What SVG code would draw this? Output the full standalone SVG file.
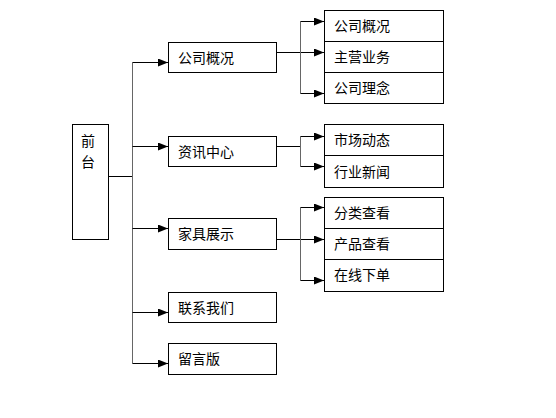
<svg xmlns="http://www.w3.org/2000/svg" width="556" height="418" viewBox="0 0 556 418">
<style>
rect{fill:#fff;stroke:#000;stroke-width:1}
text{font-family:"Noto Sans CJK SC","Noto Sans",sans-serif;font-size:14px;fill:#000;dominant-baseline:central}
.c line,.c path{stroke:#000;stroke-width:1;fill:none}
.c .v{stroke:#666}
</style>
<defs>
<marker id="a" viewBox="0 0 10 8" refX="10" refY="4" markerWidth="10" markerHeight="8" markerUnits="userSpaceOnUse" orient="auto">
<path d="M0,0 L10,4 L0,8 Z" fill="#000"/>
</marker>
</defs>
<rect x="0" y="0" width="556" height="418" style="stroke:none"/>
<g class="c" id="connectors">
<line x1="108.5" y1="176.5" x2="132.5" y2="176.5"/>
<line class="v" x1="132.5" y1="62.5" x2="132.5" y2="363.5"/>
<line x1="132.5" y1="62.5" x2="168" y2="62.5" marker-end="url(#a)"/>
<line x1="132.5" y1="146.5" x2="168" y2="146.5" marker-end="url(#a)"/>
<line x1="132.5" y1="228.5" x2="168" y2="228.5" marker-end="url(#a)"/>
<line x1="132.5" y1="312.5" x2="168" y2="312.5" marker-end="url(#a)"/>
<line x1="132.5" y1="363.5" x2="168" y2="363.5" marker-end="url(#a)"/>
<line x1="277" y1="52.5" x2="324" y2="52.5" marker-end="url(#a)"/>
<line class="v" x1="300.5" y1="21.5" x2="300.5" y2="93.5"/>
<line x1="300.5" y1="21.5" x2="324" y2="21.5" marker-end="url(#a)"/>
<line x1="300.5" y1="93.5" x2="324" y2="93.5" marker-end="url(#a)"/>
<line x1="277" y1="146.5" x2="300.5" y2="146.5"/>
<line class="v" x1="300.5" y1="136.5" x2="300.5" y2="166.5"/>
<line x1="300.5" y1="136.5" x2="324" y2="136.5" marker-end="url(#a)"/>
<line x1="300.5" y1="166.5" x2="324" y2="166.5" marker-end="url(#a)"/>
<line x1="277" y1="239.5" x2="324" y2="239.5" marker-end="url(#a)"/>
<line class="v" x1="300.5" y1="207.5" x2="300.5" y2="280.5"/>
<line x1="300.5" y1="207.5" x2="324" y2="207.5" marker-end="url(#a)"/>
<line x1="300.5" y1="280.5" x2="324" y2="280.5" marker-end="url(#a)"/>
</g>
<g id="root"><rect x="72.5" y="124.5" width="36" height="115"/><text x="88" y="140" text-anchor="middle">前</text><text x="88" y="161" text-anchor="middle">台</text></g>
<g id="n1"><rect x="168.5" y="42.5" width="108" height="30"/><text x="178" y="57">公司概况</text></g>
<g id="n2"><rect x="168.5" y="136.5" width="108" height="30"/><text x="178" y="151">资讯中心</text></g>
<g id="n3"><rect x="168.5" y="218.5" width="108" height="31"/><text x="178" y="233">家具展示</text></g>
<g id="n4"><rect x="168.5" y="292.5" width="108" height="30"/><text x="178" y="307">联系我们</text></g>
<g id="n5"><rect x="168.5" y="343.5" width="108" height="31"/><text x="178" y="358">留言版</text></g>
<g id="n11"><rect x="324.5" y="10.5" width="119" height="31"/><text x="334" y="25">公司概况</text></g>
<g id="n12"><rect x="324.5" y="41.5" width="119" height="31"/><text x="334" y="56">主营业务</text></g>
<g id="n13"><rect x="324.5" y="72.5" width="119" height="31"/><text x="334" y="87">公司理念</text></g>
<g id="n21"><rect x="324.5" y="124.5" width="119" height="31"/><text x="334" y="139">市场动态</text></g>
<g id="n22"><rect x="324.5" y="155.5" width="119" height="32"/><text x="334" y="171">行业新闻</text></g>
<g id="n31"><rect x="324.5" y="197.5" width="119" height="31"/><text x="334" y="212">分类查看</text></g>
<g id="n32"><rect x="324.5" y="228.5" width="119" height="31"/><text x="334" y="243">产品查看</text></g>
<g id="n33"><rect x="324.5" y="259.5" width="119" height="32"/><text x="334" y="274">在线下单</text></g>
</svg>
